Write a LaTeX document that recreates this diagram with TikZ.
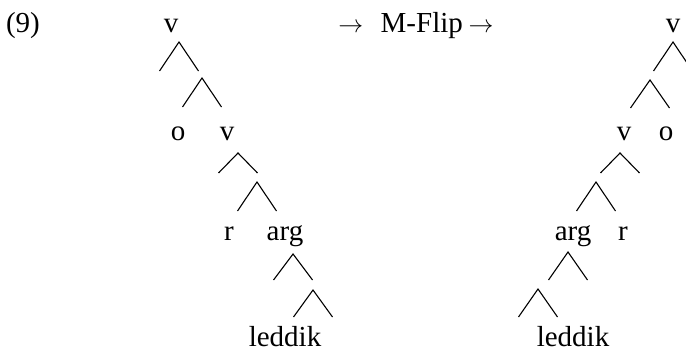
\documentclass[tikz,border=0pt]{standalone}
\usepackage{fontspec}
\setmainfont{Liberation Serif}
\usetikzlibrary{positioning}
\tikzset{lab/.style={anchor=base,inner sep=0pt,font=\fontsize{29}{32}\selectfont},
  branch/.style={line width=1.1pt}}
% fork: name, apex x, apex y, height
\newcommand{\mfork}[4]{%
  \coordinate (#1) at (#2,#3);
  \coordinate (#1l) at (#2-19.5,#3+#4);
  \coordinate (#1r) at (#2+19.5,#3+#4);
  \draw[branch] (#1l) -- (#1) -- (#1r);}
\begin{document}
\begin{tikzpicture}[x=1pt,y=-1pt]
  \useasboundingbox (0,0) rectangle (686,353);
  \node[lab] (ex) at (23,33) {(9)};
  \node[lab] (flip) at (416,33) {$\rightarrow$\hspace{0.6em}M-Flip\hspace{0.2em}$\rightarrow$};

  % left tree
  \node[lab] (lv0) at (171,33) {v};
  \node[lab] (lo) at (178,140) {o};
  \node[lab] (lv1) at (227,140) {v};
  \node[lab] (lr) at (229,240) {r};
  \node[lab] (larg) at (285,240) {arg};
  \node[lab] (lled) at (285,346) {leddik};
  \mfork{la}{179}{42}{29}
  \mfork{lb}{202}{78}{29}
  \mfork{lc}{238}{153}{20}
  \mfork{ld}{257}{182}{29}
  \mfork{le}{293}{254}{26}
  \mfork{lf}{313}{290}{27}

  % right tree
  \node[lab] (rv0) at (673,33) {v};
  \node[lab] (rv1) at (624,140) {v};
  \node[lab] (ro) at (666,140) {o};
  \node[lab] (rarg) at (573,240) {arg};
  \node[lab] (rr) at (623,240) {r};
  \node[lab] (rled) at (573,346) {leddik};
  \mfork{ra}{673}{42}{29}
  \mfork{rb}{650}{80}{28}
  \mfork{rc}{620}{153}{20}
  \mfork{rd}{596}{182}{29}
  \mfork{re}{568}{252}{28}
  \mfork{rf}{538}{289}{28}
\end{tikzpicture}
\end{document}
